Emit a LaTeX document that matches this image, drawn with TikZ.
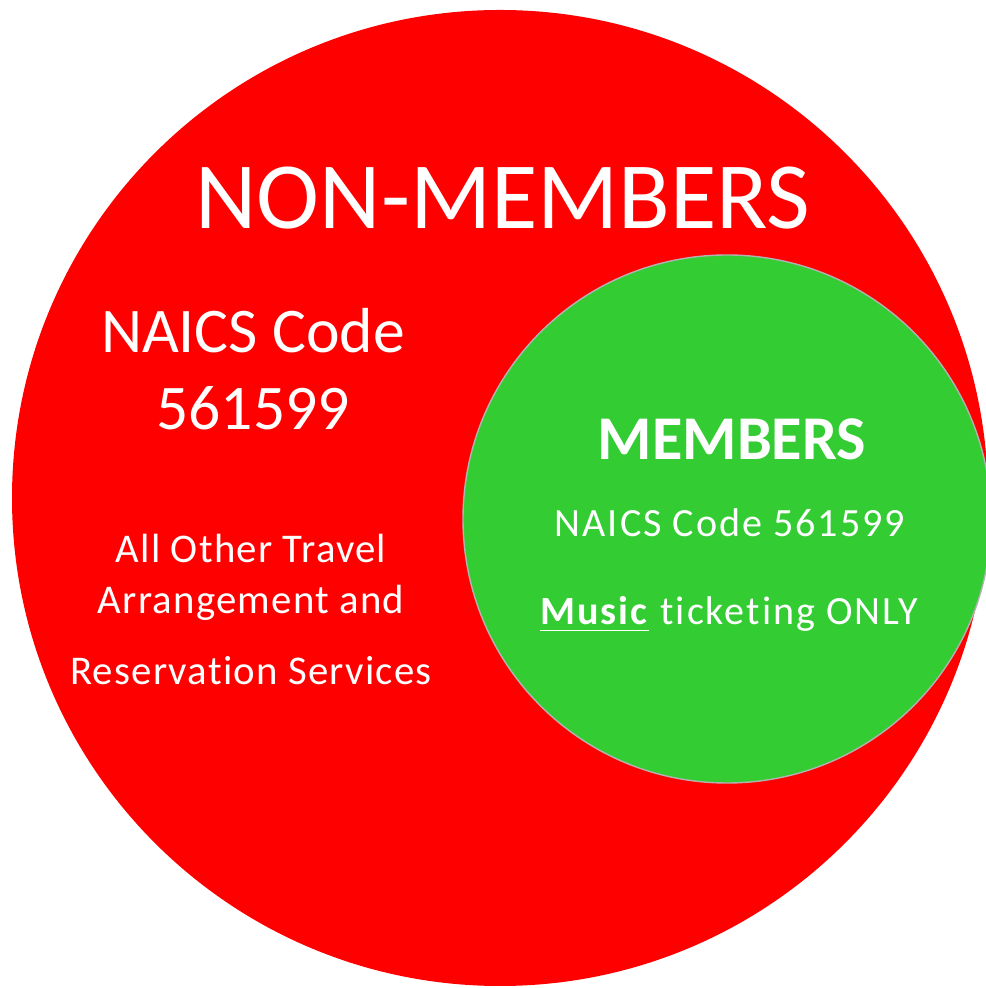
\documentclass[tikz,border=0pt]{standalone}
\usepackage{fontspec}
\setmainfont[Ligatures=NoCommon]{Carlito}
\usepackage{xcolor}
\definecolor{nonred}{HTML}{FF0000}
\definecolor{memgreen}{HTML}{33CC33}

\begin{document}
\begin{tikzpicture}[
    txt/.style={text=white,anchor=base,inner sep=0pt,align=center},
    big/.style={txt,font=\fontsize{27}{32}\selectfont},
    mid/.style={txt,font=\fontsize{18.1}{22}\selectfont},
    small/.style={txt,font=\fontsize{11.6}{14}\selectfont\addfontfeature{LetterSpace=3}},
    tiny/.style={txt,font=\fontsize{11.4}{14}\selectfont\addfontfeature{LetterSpace=5}}]
    \useasboundingbox (0,0) rectangle (9.85,9.88);
    % circles
    \node[circle,fill=nonred,minimum size=9.76cm,inner sep=0pt] (nonmem) at (5.00,4.90) {};
    \node[circle,fill=memgreen,draw=black!30,line width=0.4pt,minimum size=5.28cm,inner sep=0pt] (mem) at (7.27,4.69) {};
    % non-members side
    \node[big] (nmtitle) at (5.03,7.59) {NON-MEMBERS};
    \node[mid] (nmcode) at (2.53,6.35) {NAICS Code};
    \node[mid] (nmnum) at (2.53,5.58) {561599};
    \node[small] (nmdesca) at (2.51,4.25) {All Other Travel};
    \node[small] (nmdescb) at (2.51,3.74) {Arrangement and};
    \node[small] (nmdescc) at (2.51,3.03) {Reservation Services};
    % members side
    \node[txt,font=\fontsize{17.7}{21}\selectfont\bfseries] (mtitle) at (7.32,5.28) {MEMBERS};
    \node[tiny] (mcode) at (7.30,4.51) {NAICS Code 561599};
    \node[tiny] (mnote) at (7.29,3.63) {\underline{\textbf{Music}} ticketing ONLY};
\end{tikzpicture}
\end{document}
